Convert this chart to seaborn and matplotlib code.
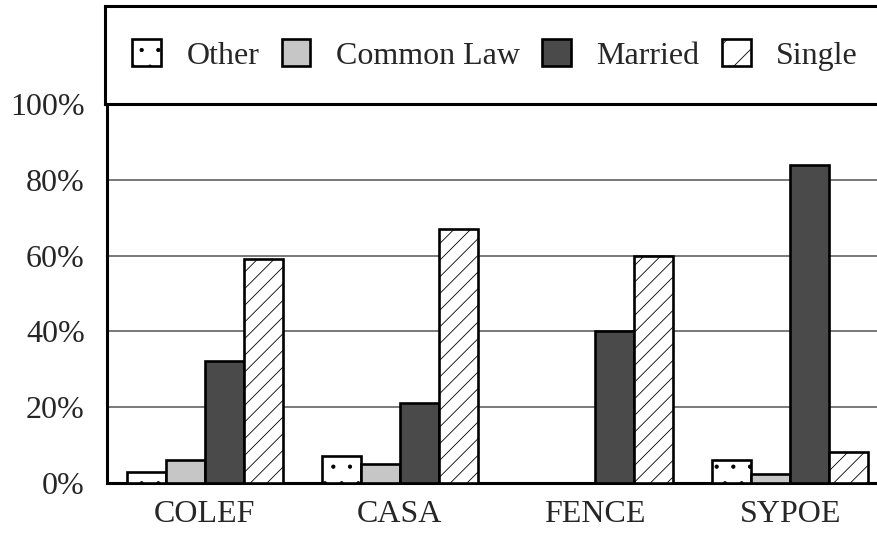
import seaborn as sns
import matplotlib.pyplot as plt
import matplotlib.patches as mpatches
import pandas as pd

# values (percent)
sites = ["COLEF", "CASA", "FENCE", "SYPOE"]
statuses = ["Other", "Common Law", "Married", "Single"]
other = [3, 7, 0, 6]
common_law = [6, 5, 0, 2.5]
married = [32.3, 21, 40, 83.8]
single = [59, 67, 60, 8.3]
yticks = [0, 20, 40, 60, 80, 100]

fills = {"Other": "white", "Common Law": "#c6c6c6", "Married": "#4a4a4a", "Single": "white"}
hatches = {"Other": ".", "Common Law": "", "Married": "", "Single": "//"}

rows = []
for status, vals in zip(statuses, [other, common_law, married, single]):
    for site, v in zip(sites, vals):
        rows.append({"site": site, "status": status, "pct": v})
df = pd.DataFrame(rows)

sns.set_style("white")
plt.rcParams['font.family'] = ['Liberation Serif', 'DejaVu Serif']
plt.rcParams['hatch.linewidth'] = 0.6
plt.rcParams['hatch.color'] = '#222222'

W, H = 878, 537
FS = 23
fig = plt.figure(figsize=(W / 100, H / 100), dpi=100)
ax = fig.add_axes([107 / W, 54 / H, 781 / W, 379 / H])

sns.barplot(data=df, x="site", y="pct", hue="status", order=sites, hue_order=statuses,
            palette=fills, edgecolor="black", linewidth=1.9, saturation=1,
            errorbar=None, legend=False, ax=ax, zorder=3)

for status, cont in zip(statuses, ax.containers):
    for bar in cont:
        bar.set_hatch(hatches[status])
        if bar.get_height() == 0:
            bar.set_visible(False)

ax.set_ylim(0, 100)
ax.set_xlim(-0.5, 3.5)
ax.set_yticks(yticks)
ax.set_yticklabels([f"{t}%" for t in yticks])
ax.set_xlabel("")
ax.set_ylabel("")
ax.grid(axis="y", color="#555555", linewidth=1.1, zorder=0)
ax.set_axisbelow(True)
ax.tick_params(axis="y", length=0, pad=16, labelsize=FS)
ax.tick_params(axis="x", length=0, pad=12, labelsize=FS)
for side in ["top", "right"]:
    ax.spines[side].set_visible(False)
for side in ["left", "bottom"]:
    ax.spines[side].set_linewidth(2.2)
    ax.spines[side].set_color("black")

# legend box sitting on top of the plot
lax = fig.add_axes([105 / W, 433 / H, 800 / W, 98 / H])
lax.set_xticks([])
lax.set_yticks([])
for s in lax.spines.values():
    s.set_linewidth(2.2)
    s.set_color("black")
handles = [mpatches.Patch(facecolor=fills[s], edgecolor="black", linewidth=1.9,
                          hatch=hatches[s][:1], label=s)
           for s in statuses]
lax.legend(handles=handles, loc="center left", bbox_to_anchor=(27 / 800, 0.5), ncol=4, frameon=False,
           fontsize=FS, handlelength=0.9, handleheight=0.9, handletextpad=0.8, columnspacing=0.7,
           borderpad=0, borderaxespad=0)

fig.savefig("out.png", dpi=100)
